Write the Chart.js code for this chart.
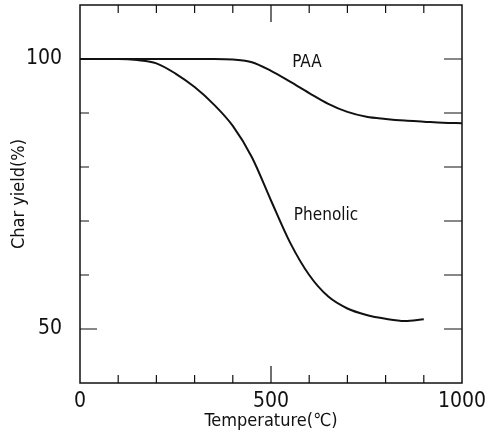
<!DOCTYPE html>
<html>
<head>
<meta charset="utf-8">
<script src="https://cdn.jsdelivr.net/npm/chart.js@4.4.0/dist/chart.umd.min.js"></script>
<style>
  body { margin: 0; background: #fff; }
  #wrap { width: 490px; height: 440px; }
</style>
</head>
<body>
<div id="wrap"><canvas id="tga" width="490" height="440"></canvas></div>
<script>
// --- data ---
const temps = [0, 100, 150, 200, 250, 300, 350, 400, 450, 500, 550, 600, 650, 700, 750, 800, 850, 900, 950, 1000];
const paaYield = [100, 100, 100, 100, 100, 100, 100, 99.9, 99.4, 97.8, 95.8, 93.7, 91.7, 90.2, 89.3, 88.9, 88.6, 88.4, 88.2, 88.1];
const phenolicYield = [100, 100, 99.8, 99.2, 97.3, 94.8, 91.6, 87.6, 81.8, 73.8, 66.0, 60.0, 56.0, 53.8, 52.6, 51.9, 51.5, 51.8, null, null];

// curve labels placed in data units
const curveNames = ['PAA', 'Phenolic'];
const labelTemp = [594, 644];
const labelYield = [99.4, 71.0];

const FONT = '"Liberation Sans Narrow", "DejaVu Sans Condensed", "Liberation Sans", sans-serif';
const INK = '#111';

function toPoints(ys) {
    return temps.map((t, i) => ({ x: t, y: ys[i] })).filter(p => p.y !== null);
}

// box frame, inward ticks on all four sides, curve labels
const framePlugin = {
    id: 'frame',
    afterDatasetsDraw(chart) {
        const { ctx, chartArea: a, scales } = chart;
        const xs = scales.x, ys = scales.y;
        ctx.save();
        ctx.strokeStyle = INK;
        ctx.lineWidth = 1.5;
        ctx.strokeRect(a.left, a.top, a.right - a.left, a.bottom - a.top);

        ctx.lineWidth = 1.2;
        ctx.beginPath();
        for (let t = 100; t < 1000; t += 100) {
            const px = xs.getPixelForValue(t);
            const len = t === 500 ? 17 : 8;
            ctx.moveTo(px, a.bottom); ctx.lineTo(px, a.bottom - len);
            ctx.moveTo(px, a.top); ctx.lineTo(px, a.top + len);
        }
        for (let v = 50; v <= 100; v += 10) {
            const py = ys.getPixelForValue(v);
            const len = (v === 50 || v === 100) ? 17 : 9;
            ctx.moveTo(a.left, py); ctx.lineTo(a.left + len, py);
            ctx.moveTo(a.right, py); ctx.lineTo(a.right - 18, py);
        }
        ctx.stroke();

        ctx.fillStyle = INK;
        ctx.font = '17px ' + FONT;
        ctx.textAlign = 'center';
        ctx.textBaseline = 'middle';
        curveNames.forEach((name, i) => {
            ctx.fillText(name, xs.getPixelForValue(labelTemp[i]), ys.getPixelForValue(labelYield[i]));
        });
        ctx.restore();
    }
};

new Chart(document.getElementById('tga'), {
    type: 'line',
    data: {
        datasets: [
            { label: 'PAA', data: toPoints(paaYield) },
            { label: 'Phenolic', data: toPoints(phenolicYield) }
        ]
    },
    options: {
        responsive: false,
        animation: false,
        layout: { padding: { top: 5, right: 28, left: 0, bottom: 0 } },
        elements: {
            line: { borderColor: INK, borderWidth: 2, cubicInterpolationMode: 'monotone', fill: false },
            point: { radius: 0 }
        },
        plugins: { legend: { display: false }, tooltip: { enabled: false } },
        scales: {
            x: {
                type: 'linear',
                min: 0, max: 1000,
                afterFit: s => { s.height = 57; s.paddingLeft = 0; s.paddingRight = 0; },
                grid: { display: false },
                border: { display: false },
                ticks: {
                    stepSize: 100,
                    maxRotation: 0,
                    autoSkip: false,
                    padding: -2,
                    color: INK,
                    font: { family: FONT, size: 21 },
                    callback: v => (v % 500 === 0 ? String(v) : '')
                },
                title: {
                    display: true,
                    text: 'Temperature(℃)',
                    color: INK,
                    font: { family: FONT, size: 18 },
                    padding: { top: 0, bottom: 8 }
                }
            },
            y: {
                min: 40, max: 110,
                afterFit: s => { s.width = 80; s.paddingTop = 0; s.paddingBottom = 0; },
                grid: { display: false },
                border: { display: false },
                ticks: {
                    stepSize: 10,
                    autoSkip: false,
                    padding: 10,
                    color: INK,
                    font: { family: FONT, size: 21 },
                    callback: v => (v === 50 || v === 100 ? String(v) : '')
                },
                title: {
                    display: true,
                    text: 'Char yield(%)',
                    color: INK,
                    font: { family: FONT, size: 18 },
                    padding: { top: 9, bottom: 0 }
                }
            }
        }
    },
    plugins: [framePlugin]
});
</script>
</body>
</html>
